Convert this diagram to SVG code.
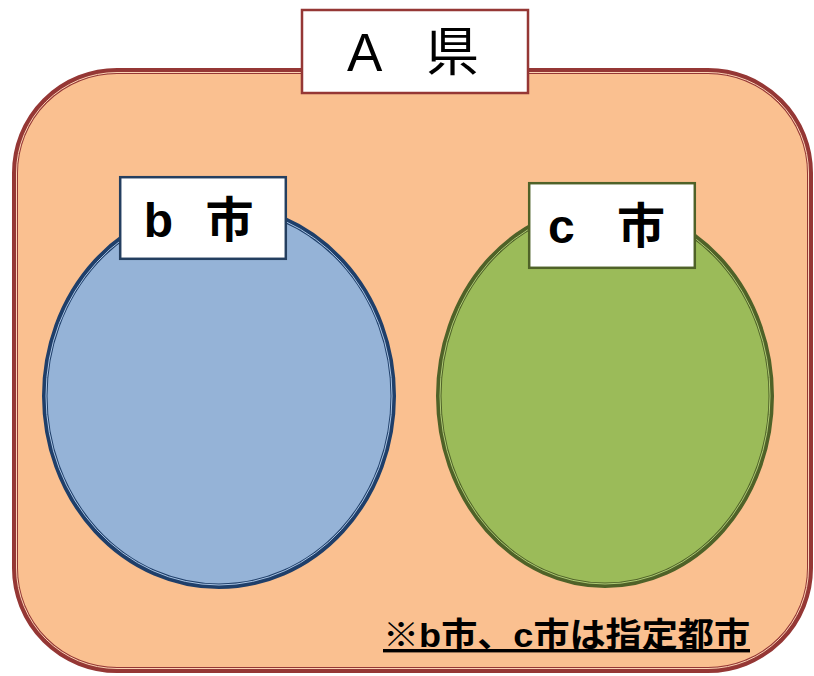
<svg xmlns="http://www.w3.org/2000/svg" width="814" height="676" viewBox="0 0 814 676">
<style>
.jp{font-family:"Liberation Sans","Noto Sans CJK JP",sans-serif;fill:#000}
.lbl{font-size:48px;font-weight:bold;text-anchor:middle}
.ttl{font-size:53px;text-anchor:middle}
.note{font-size:34px;font-weight:bold;text-decoration:underline}
.box{fill:#fff;stroke-width:2.5}
</style>
<rect width="814" height="676" fill="#fff"/>
<g id="county-A">
<rect x="15" y="71" width="795" height="599" rx="102" ry="102" fill="#FAC090" stroke="#953735" stroke-width="6"/>
<rect x="16.5" y="72.5" width="792" height="596" rx="100.5" ry="100.5" fill="none" stroke="#FBD3B4" stroke-width="1"/>
<rect class="box" x="302" y="10" width="226" height="83" stroke="#953735"/>
<text class="jp ttl" y="71"><tspan x="370.5">A</tspan> <tspan x="452.5">県</tspan></text>
</g>
<g id="city-b">
<ellipse cx="219" cy="396" rx="174.25" ry="190.25" fill="#95B3D7" stroke="#1F3F6A" stroke-width="5.5"/>
<ellipse cx="219" cy="396" rx="173" ry="189" fill="none" stroke="#A9C4E4" stroke-width="1"/>
<rect class="box" x="120.2" y="177.2" width="165.6" height="81.6" stroke="#243F60"/>
<text class="jp lbl" y="237"><tspan x="165">b</tspan> <tspan x="229.5">市</tspan></text>
</g>
<g id="city-c">
<ellipse cx="605" cy="396" rx="166.25" ry="189.25" fill="#9BBB59" stroke="#4F6228" stroke-width="5.5"/>
<ellipse cx="605" cy="396" rx="165" ry="188" fill="none" stroke="#AFCB75" stroke-width="1"/>
<rect class="box" x="529.2" y="183.2" width="165.6" height="84.6" stroke="#4F6228"/>
<text class="jp lbl" y="243"><tspan x="568">c</tspan> <tspan x="641">市</tspan></text>
</g>
<g id="note">
<text class="jp note" x="383" y="647" textLength="367" lengthAdjust="spacingAndGlyphs">※b市、c市は指定都市</text>
</g>
<g id="connectors"/>
</svg>
